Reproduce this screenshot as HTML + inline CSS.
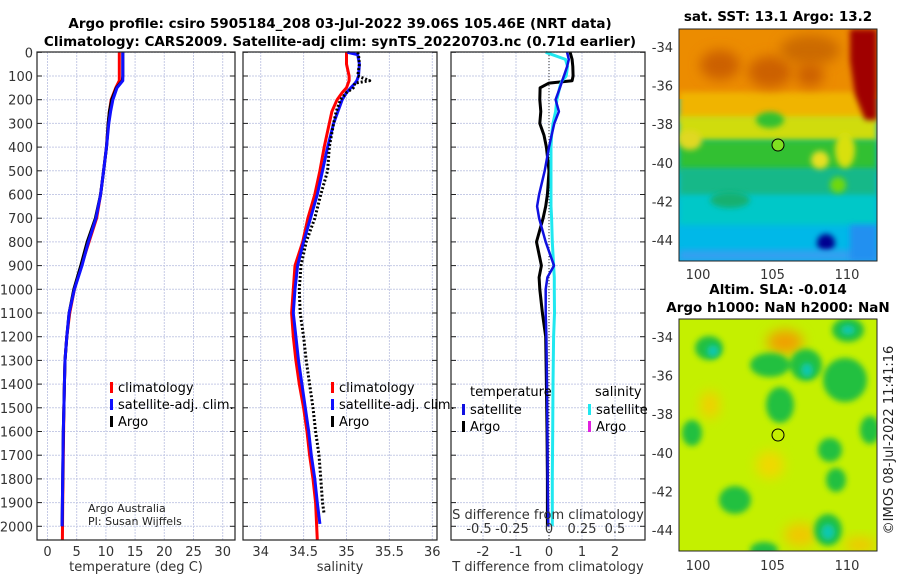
<!DOCTYPE html>
<html><head><meta charset="utf-8"><style>
html,body{margin:0;padding:0;background:#fff;}
svg{display:block;font-family:"DejaVu Sans","Liberation Sans",sans-serif;}
.tk{font-size:13px;fill:#333;}
.tt{font-size:13.5px;font-weight:bold;fill:#000;}
.lg{font-size:13px;fill:#000;}
</style></head><body>
<svg id="fig" width="900" height="580" viewBox="0 0 900 580" xmlns="http://www.w3.org/2000/svg">
<defs>
<filter id="bl" x="-50%" y="-50%" width="200%" height="200%"><feGaussianBlur stdDeviation="6"/></filter>
<filter id="bl2" x="-50%" y="-50%" width="200%" height="200%"><feGaussianBlur stdDeviation="3"/></filter>
<clipPath id="c1"><rect x="679" y="29" width="198" height="232"/></clipPath>
<clipPath id="c2"><rect x="679" y="319" width="198" height="232"/></clipPath>
</defs>
<text class="tt" x="340" y="28" text-anchor="middle">Argo profile: csiro 5905184_208 03-Jul-2022 39.06S 105.46E (NRT data)</text>
<text class="tt" x="340" y="46" text-anchor="middle">Climatology: CARS2009. Satellite-adj clim: synTS_20220703.nc (0.71d earlier)</text>
<g id="grid"></g>
<g id="marks"></g>
<g id="axes"></g>

<!-- SST map -->
<g clip-path="url(#c1)">
<rect x="679" y="29" width="198" height="232" fill="#00b8e8"/>
<rect x="679" y="29" width="198" height="70" fill="#ec8c00"/>
<rect x="679" y="92" width="198" height="30" fill="#f0b400" filter="url(#bl2)"/>
<rect x="679" y="116" width="198" height="26" fill="#d0dc10" filter="url(#bl2)"/>
<rect x="679" y="140" width="198" height="32" fill="#30c030" filter="url(#bl2)"/>
<rect x="679" y="168" width="198" height="30" fill="#18b888" filter="url(#bl2)"/>
<rect x="679" y="195" width="198" height="30" fill="#00c8c8" filter="url(#bl2)"/>
<ellipse cx="720" cy="65" rx="20" ry="15" fill="#cc6000" filter="url(#bl)"/>
<ellipse cx="770" cy="72" rx="22" ry="16" fill="#cc6000" filter="url(#bl)"/>
<ellipse cx="810" cy="50" rx="30" ry="15" fill="#cc6a00" filter="url(#bl)"/>
<ellipse cx="810" cy="75" rx="14" ry="12" fill="#cc6000" filter="url(#bl)"/>
<polygon points="850,29 877,29 877,120 865,120 855,95 850,60" fill="#a00000" filter="url(#bl2)"/>
<ellipse cx="690" cy="140" rx="12" ry="10" fill="#e0d820" filter="url(#bl2)"/>
<ellipse cx="820" cy="160" rx="9" ry="9" fill="#e8e020" filter="url(#bl2)"/>
<ellipse cx="845" cy="150" rx="10" ry="18" fill="#d8e010" filter="url(#bl2)"/>
<ellipse cx="770" cy="120" rx="14" ry="8" fill="#30c030" filter="url(#bl2)"/>
<ellipse cx="838" cy="185" rx="8" ry="8" fill="#70d810" filter="url(#bl2)"/>
<ellipse cx="730" cy="200" rx="20" ry="8" fill="#18b070" filter="url(#bl2)"/>
<ellipse cx="826" cy="243" rx="9" ry="9" fill="#000090" filter="url(#bl2)"/>
<rect x="679" y="250" width="198" height="11" fill="#30a0f0" filter="url(#bl2)"/>
<rect x="850" y="225" width="27" height="36" fill="#2090f0" filter="url(#bl2)"/>
</g>
<circle cx="778" cy="145" r="6" fill="#80e020" stroke="#000" stroke-width="1"/>
<rect x="679" y="29" width="198" height="232" fill="none" stroke="#222"/>

<!-- SLA map -->
<g clip-path="url(#c2)">
<rect x="679" y="319" width="198" height="232" fill="#c4f000"/>
<ellipse cx="785" cy="342" rx="18" ry="12" fill="#f0a000" filter="url(#bl)"/>
<ellipse cx="710" cy="405" rx="10" ry="14" fill="#f0d000" filter="url(#bl)"/>
<ellipse cx="770" cy="465" rx="14" ry="14" fill="#f0d800" filter="url(#bl)"/>
<ellipse cx="800" cy="535" rx="16" ry="12" fill="#f0c800" filter="url(#bl)"/>
<ellipse cx="860" cy="545" rx="16" ry="8" fill="#f0c800" filter="url(#bl)"/>
<g fill="#20c040" filter="url(#bl2)">
<ellipse cx="709" cy="348" rx="14" ry="12"/>
<ellipse cx="692" cy="433" rx="10" ry="13"/>
<ellipse cx="780" cy="405" rx="14" ry="18"/>
<ellipse cx="770" cy="365" rx="20" ry="12"/>
<ellipse cx="806" cy="365" rx="16" ry="16"/>
<ellipse cx="845" cy="380" rx="22" ry="22"/>
<ellipse cx="830" cy="450" rx="12" ry="12"/>
<ellipse cx="836" cy="480" rx="10" ry="12"/>
<ellipse cx="735" cy="500" rx="16" ry="14"/>
<ellipse cx="828" cy="530" rx="14" ry="16"/>
<ellipse cx="764" cy="550" rx="14" ry="8"/>
<ellipse cx="848" cy="330" rx="16" ry="12"/>
<ellipse cx="870" cy="430" rx="10" ry="14"/>
</g>
<g fill="#10c8b0" filter="url(#bl2)">
<ellipse cx="713" cy="351" rx="6" ry="6"/>
<ellipse cx="807" cy="370" rx="6" ry="7"/>
<ellipse cx="848" cy="330" rx="7" ry="5"/>
<ellipse cx="828" cy="532" rx="7" ry="8"/>
</g>
</g>
<circle cx="778" cy="435" r="6" fill="none" stroke="#000" stroke-width="1"/>
<rect x="679" y="319" width="198" height="232" fill="none" stroke="#222"/>

<text class="tt" x="778" y="21" text-anchor="middle">sat. SST: 13.1 Argo: 13.2</text>
<text class="tt" x="778" y="294" text-anchor="middle">Altim. SLA: -0.014</text>
<text class="tt" x="778" y="312" text-anchor="middle">Argo h1000: NaN h2000: NaN</text>
<text x="893" y="440" font-size="13" fill="#222" text-anchor="middle" transform="rotate(-90 893 440)">©IMOS 08-Jul-2022 11:41:16</text>

<text x="88" y="512" style="font-size:11px;fill:#222">Argo Australia</text>
<text x="88" y="525" style="font-size:11px;fill:#222">PI: Susan Wijffels</text>
<text class="tk" x="136" y="571" text-anchor="middle">temperature (deg C)</text>
<text class="tk" x="340" y="571" text-anchor="middle">salinity</text>
<text class="tk" x="548" y="571" text-anchor="middle">T difference from climatology</text>
<text class="tk" x="548" y="519" text-anchor="middle">S difference from climatology</text>
<g id="legends"></g>
</svg>
<script>
// ---- data ----
var tDepth=[0,50,100,120,150,200,250,300,400,500,600,700,800,900,1000,1100,1200,1300,1400,1500,1600,1700,1800,1900,2000];
var tClim=[12.3,12.3,12.3,12.3,11.7,10.9,10.6,10.4,10.1,9.6,9.1,8.4,7.1,5.8,4.6,3.8,3.3,3.0,2.9,2.8,2.75,2.7,2.65,2.6,2.55];
var tSat=[12.9,12.9,12.9,12.9,11.9,11.2,10.8,10.5,10.1,9.6,9.1,8.3,7.0,5.9,4.6,3.7,3.3,3.0,2.9,2.8,2.7,2.65,2.6,2.55,2.5];
var tArgo=[12.9,12.9,12.9,12.8,11.8,11.0,10.6,10.4,10.1,9.6,9.1,8.2,6.8,5.7,4.5,3.7,3.3,3.0,2.9,2.8,2.7,2.65,2.6,2.55,2.5];
var sDepth=[0,10,50,100,120,130,150,170,200,250,300,400,500,600,700,800,900,1000,1100,1200,1300,1400,1500,1600,1700,1800,1900,2000];
var sClim=[35.0,35.0,35.0,35.03,35.03,35.02,35.0,34.95,34.89,34.83,34.8,34.74,34.69,34.63,34.55,34.49,34.4,34.38,34.36,34.38,34.41,34.45,34.5,34.54,34.57,34.61,34.64,34.66];
var sSat=[35.01,35.13,35.15,35.14,35.12,35.1,35.05,35.0,34.95,34.9,34.85,34.78,34.72,34.66,34.58,34.5,34.43,34.4,34.38,34.41,34.44,34.48,34.52,34.56,34.59,34.63,34.66,34.69];
var sArgo=[35.13,35.14,35.15,35.13,35.27,35.1,35.08,35.0,34.93,34.88,34.85,34.8,34.78,34.7,34.63,34.53,34.47,34.45,34.46,34.5,34.53,34.57,34.61,34.64,34.68,34.7,34.72,34.74];
var dDepth=[0,30,60,100,120,130,150,200,250,300,350,400,500,600,650,700,800,900,950,1000,1100,1200,1400,1600,1800,2000];
var dTArgo=[0.64,0.7,0.72,0.73,0.7,0.0,-0.27,-0.28,-0.25,-0.28,-0.15,-0.08,0.0,-0.05,-0.1,-0.18,-0.38,-0.23,-0.3,-0.28,-0.2,-0.1,-0.08,-0.06,-0.05,-0.05];
var dTSat=[0.55,0.6,0.55,0.45,0.4,0.38,0.33,0.2,0.3,0.16,0.08,0.0,-0.13,-0.3,-0.36,-0.3,-0.1,0.15,-0.05,-0.1,-0.1,-0.08,-0.06,-0.05,-0.04,-0.02];
var dSSat=[-0.025,0.125,0.14,0.13,0.1,0.09,0.08,0.06,0.05,0.03,0.02,0.015,0.015,0.015,0.015,0.02,0.025,0.035,0.04,0.04,0.042,0.035,0.03,0.028,0.025,0.025];
var depthTicks=[0,100,200,300,400,500,600,700,800,900,1000,1100,1200,1300,1400,1500,1600,1700,1800,1900,2000];
var tTicks=[0,5,10,15,20,25,30];
var sTicks=[34,34.5,35,35.5,36];
var dTTicks=[-2,-1,0,1,2];
var dSTicks=[-0.5,-0.25,0,0.25,0.5];
var sstLat=[-34,-36,-38,-40,-42,-44];
var mapLon=[100,105,110];
// ---- scales ----
var NS='http://www.w3.org/2000/svg';
function yD(d){return 52.3+d*0.237;}
function xT(t){return 47.5+t*5.84;}
function xS(s){return 260.7+(s-34)*85.8;}
function xDT(v){return 549+v*33;}
function xDS(v){return 549+v*132;}
var panels=[{x0:37,x1:235,n:'temperature'},{x0:243,x1:437,n:'salinity'},{x0:451,x1:645,n:'difference'}];
var TOP=52,BOT=540;
function mk(tag,attrs,parent){var e=document.createElementNS(NS,tag);for(var k in attrs)e.setAttribute(k,attrs[k]);document.getElementById(parent).appendChild(e);return e;}
function txt(s,x,y,anchor,parent,cls){var e=mk('text',{x:x,y:y,'text-anchor':anchor,'class':cls||'tk'},parent);e.textContent=s;return e;}
function line(xs,ys,color,w,dash,name){
  var pts=xs.map(function(v,i){return v.toFixed(1)+','+ys[i].toFixed(1);}).join(' ');
  var a={points:pts,fill:'none',stroke:color,'stroke-width':w,'stroke-linejoin':'round'};
  if(dash)a['stroke-dasharray']=dash;
  var e=mk('polyline',a,'marks');
  
  
}
panels.forEach(function(p,pi){
  depthTicks.forEach(function(d){
    var g=mk('line',{x1:p.x0,x2:p.x1,y1:yD(d),y2:yD(d),stroke:'#c6cbe6','stroke-width':1,'stroke-dasharray':'2,1'},'grid');
    
    
    mk('line',{x1:p.x0,x2:p.x0+5,y1:yD(d),y2:yD(d),stroke:'#222'},'axes');
    mk('line',{x1:p.x1-5,x2:p.x1,y1:yD(d),y2:yD(d),stroke:'#222'},'axes');
  });
  var f=mk('rect',{x:p.x0,y:TOP,width:p.x1-p.x0,height:BOT-TOP,fill:'none',stroke:'#222','stroke-width':1.2},'axes');
  
  
});
depthTicks.forEach(function(d){
  var t=txt(String(d),33,yD(d)+5,'end','axes');
  
  
});
function vgrid(ticks,fx){ticks.forEach(function(v){
  var g=mk('line',{x1:fx(v),x2:fx(v),y1:TOP,y2:BOT,stroke:'#c6cbe6','stroke-width':1,'stroke-dasharray':'2,1'},'grid');
  
  
});}
vgrid(tTicks,xT);vgrid(sTicks,xS);vgrid(dTTicks,xDT);
tTicks.forEach(function(v){var t=txt(String(v),xT(v),556,'middle','axes');});
sTicks.forEach(function(v){var t=txt(String(v),xS(v),556,'middle','axes');});
dTTicks.forEach(function(v){var t=txt(String(v),xDT(v),556,'middle','axes');});
dSTicks.forEach(function(v){var t=txt(String(v),xDS(v)-(v<0?4:0),533,'middle','axes');});
var z=mk('line',{x1:xDT(0),x2:xDT(0),y1:TOP,y2:BOT,stroke:'#333','stroke-width':1,'stroke-dasharray':'1,2'},'marks');


var yT=tDepth.map(yD),yS=sDepth.map(yD),yDd=dDepth.map(yD);
line(tClim.map(xT),yT.slice(0,-1).concat([yD(2058)]),'#f00',3,null,'temperature-climatology-line');
line(tArgo.map(xT),yT,'#000',3,null,'temperature-argo-line');
line(tSat.map(xT),yT,'#1010ff',3,null,'temperature-satellite-line');
line(sClim.map(xS),yS.slice(0,-1).concat([yD(2058)]),'#f00',3,null,'salinity-climatology-line');
line(sSat.map(xS),yS.slice(0,-1).concat([yD(1990)]),'#1010ff',3,null,'salinity-satellite-line');
line(sArgo.map(xS),yS.slice(0,-1).concat([yD(1950)]),'#000',3,'2,2','salinity-argo-line');
line(dTArgo.map(xDT),yDd,'#000',3,null,'t-diff-argo-line');
line(dSSat.map(xDS),yDd,'#20e8f0',3,null,'s-diff-satellite-line');
line(dTSat.map(xDT),yDd,'#1010e0',2.5,null,'t-diff-satellite-line');
function leg(x,y,color,label,name){
  var m=mk('rect',{x:x,y:y-9,width:3,height:11,fill:color},'legends');
  
  
  var t=txt(label,x+8,y+1,'start','legends','lg');
  
  
}
leg(110,391,'#f00','climatology','t-legend-climatology');
leg(110,408,'#1010ff','satellite-adj. clim.','t-legend-satellite');
leg(110,425,'#000','Argo','t-legend-argo');
leg(331,391,'#f00','climatology','s-legend-climatology');
leg(331,408,'#1010ff','satellite-adj. clim.','s-legend-satellite');
leg(331,425,'#000','Argo','s-legend-argo');
var h1=txt('temperature',470,396,'start','legends','lg');
var h2=txt('salinity',595,396,'start','legends','lg');
leg(462,413,'#1010e0','satellite','diff-legend-t-satellite');
leg(462,430,'#000','Argo','diff-legend-t-argo');
leg(588,413,'#20e8f0','satellite','diff-legend-s-satellite');
leg(588,430,'#e020e0','Argo','diff-legend-s-argo');
function lonX(l){return 698+(l-100)*14.9;}
sstLat.forEach(function(l){
  var y1=47+(-34-l)*19.3, y2=337+(-34-l)*19.3;
  [y1,y2].forEach(function(y,i){
    var t=txt(String(l),673,y+5,'end','axes');
    
    
    mk('line',{x1:679,x2:683,y1:y,y2:y,stroke:'#222'},'axes');
    mk('line',{x1:873,x2:877,y1:y,y2:y,stroke:'#222'},'axes');
  });
});
mapLon.forEach(function(l){
  [279,570].forEach(function(y,i){
    var t=txt(String(l),lonX(l),y,'middle','axes');
    
    
  });
});
</script>
</body></html>
